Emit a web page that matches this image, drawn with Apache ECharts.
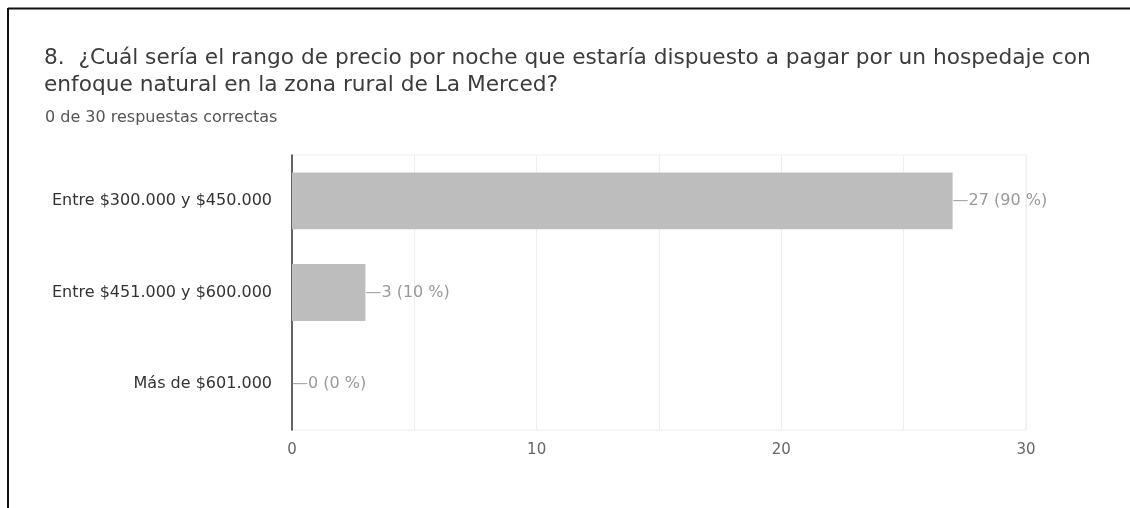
<!DOCTYPE html>
<html><head><meta charset="utf-8">
<script src="https://cdn.jsdelivr.net/npm/echarts@6/dist/echarts.min.js"></script>
<style>html,body{margin:0;padding:0;background:#fff}#c{width:1130px;height:508px}</style>
</head><body><div id="c"></div>
<script>
const categories = ['Entre $300.000 y $450.000', 'Entre $451.000 y $600.000', 'Más de $601.000'];
const counts = [27, 3, 0];
const percents = [90, 10, 0];
const xTicks = [0, 10, 20, 30];
const titleText = '8.  ¿Cuál sería el rango de precio por noche que estaría dispuesto a pagar por un hospedaje con\nenfoque natural en la zona rural de La Merced?';
const subText = '0 de 30 respuestas correctas';

const chart = echarts.init(document.getElementById('c'));
chart.setOption({
  animation: false,
  backgroundColor: '#fff',
  title: [
    {text: titleText, left: 44, top: 45, padding: 0,
     textStyle: {fontFamily: 'DejaVu Sans', fontSize: 21.7, fontWeight: 'normal', color: '#3c3c3c', lineHeight: 27}},
    {text: subText, left: 45, top: 110, padding: 0,
     textStyle: {fontFamily: 'DejaVu Sans', fontSize: 16, fontWeight: 'normal', color: '#555', lineHeight: 16}}
  ],
  graphic: [
    {type: 'line', shape: {x1: 8, y1: 8.5, x2: 1130, y2: 8.5}, style: {stroke: '#111', lineWidth: 2}},
    {type: 'line', shape: {x1: 8, y1: 8, x2: 8, y2: 508}, style: {stroke: '#111', lineWidth: 2}}
  ],
  grid: {left: 292, right: 104, top: 155, bottom: 78, show: true, borderColor: '#eee', borderWidth: 1},
  xAxis: {
    type: 'value', min: xTicks[0], max: xTicks[xTicks.length - 1], interval: 5,
    axisLine: {show: false}, axisTick: {show: false},
    splitLine: {lineStyle: {color: '#eeeeee'}},
    axisLabel: {color: '#666', fontFamily: 'DejaVu Sans', fontSize: 15, margin: 13,
      formatter: v => xTicks.includes(v) ? String(v) : ''}
  },
  yAxis: {
    type: 'category', data: categories, inverse: true,
    axisLine: {show: true, lineStyle: {color: '#333', width: 1.5}},
    axisTick: {show: false},
    axisLabel: {color: '#333', fontFamily: 'DejaVu Sans', fontSize: 16, margin: 20}
  },
  series: [{
    type: 'bar', data: counts, barWidth: '62%',
    itemStyle: {color: '#bdbdbd'},
    label: {show: true, position: 'right', distance: 0, color: '#999', fontFamily: 'DejaVu Sans', fontSize: 16,
      formatter: p => '{d|—}' + p.value + ' (' + percents[p.dataIndex] + ' %)',
      rich: {d: {color: '#aaa', fontSize: 16, fontFamily: 'DejaVu Sans'}}}
  }]
});
</script></body></html>
